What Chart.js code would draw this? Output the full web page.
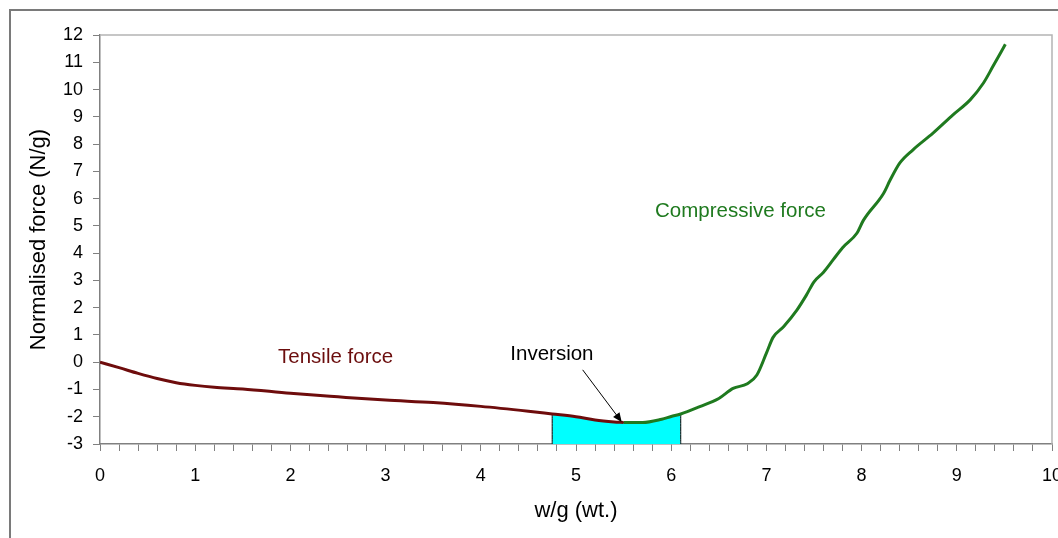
<!DOCTYPE html>
<html>
<head>
<meta charset="utf-8">
<script src="https://cdn.jsdelivr.net/npm/chart.js@4.4.0/dist/chart.umd.min.js"></script>
<style>
    html, body { margin: 0; padding: 0; background: #fff; overflow: hidden; }
    .wrap { position: relative; width: 1058px; height: 538px; }
</style>
</head>
<body>
<div class="wrap"><canvas id="forceChart"></canvas></div>
<script>
// Tensile branch (w/g, N/g)
const tensileX = [0, 0.2, 0.4, 0.6, 0.8, 1.0, 1.2, 1.5, 2.0, 2.5, 3.0, 3.5, 4.0, 4.5, 4.75, 5.0, 5.2, 5.4, 5.5];
const tensileY = [0, -0.2, -0.41, -0.6, -0.75, -0.85, -0.92, -0.98, -1.14, -1.27, -1.39, -1.48, -1.62, -1.8, -1.9, -2.0, -2.12, -2.19, -2.21];

// Compressive branch
const compressiveX = [5.5, 5.7, 5.9, 6.0, 6.1, 6.3, 6.5, 6.65, 6.8, 6.9, 7.0, 7.07, 7.18, 7.32, 7.42, 7.5, 7.6, 7.7, 7.8, 7.95, 8.02, 8.23, 8.3, 8.4, 8.54, 8.75, 8.96, 9.14, 9.28, 9.38, 9.51];
const compressiveY = [-2.21, -2.21, -2.09, -1.99, -1.9, -1.63, -1.33, -0.96, -0.79, -0.47, 0.33, 0.91, 1.3, 1.91, 2.46, 2.95, 3.3, 3.75, 4.2, 4.73, 5.21, 6.19, 6.68, 7.3, 7.79, 8.4, 9.07, 9.62, 10.24, 10.85, 11.66];

// Inversion zone (shaded)
const inversionRange = [4.75, 6.1];

const xTicks = [0, 1, 2, 3, 4, 5, 6, 7, 8, 9, 10];
const yTicks = [-3, -2, -1, 0, 1, 2, 3, 4, 5, 6, 7, 8, 9, 10, 11, 12];

const toPoints = (xs, ys) => xs.map((x, i) => ({ x: x, y: ys[i] }));

const tensilePts = toPoints(tensileX, tensileY);
const compressivePts = toPoints(compressiveX, compressiveY);

// build shaded polygon from the curve itself
const curvePts = tensilePts.concat(compressivePts.slice(1));
const inside = curvePts.filter(p => p.x >= inversionRange[0] && p.x <= inversionRange[1]);
const shadePts = [{ x: inversionRange[0], y: yTicks[0] }]
    .concat(inside)
    .concat([{ x: inversionRange[1], y: yTicks[0] }]);

const FONT = 'Arial, "Liberation Sans", sans-serif';
const AXIS_GREY = '#808080';

const decorPlugin = {
    id: 'decor',
    beforeDatasetsDraw(chart) {
        const { ctx, chartArea } = chart;
        ctx.save();
        // plot area border (top / right)
        ctx.strokeStyle = '#b4b4b4';
        ctx.lineWidth = 1.5;
        ctx.beginPath();
        ctx.moveTo(chartArea.left, chartArea.top);
        ctx.lineTo(chartArea.right, chartArea.top);
        ctx.lineTo(chartArea.right, chartArea.bottom);
        ctx.stroke();
        ctx.restore();
    },
    afterDraw(chart) {
        const { ctx } = chart;
        const xs = chart.scales.x, ys = chart.scales.y;
        ctx.save();

        // outer frame
        ctx.strokeStyle = '#7a7a7a';
        ctx.lineWidth = 2;
        ctx.beginPath();
        ctx.moveTo(10, chart.height + 5);
        ctx.lineTo(10, 10);
        ctx.lineTo(chart.width + 5, 10);
        ctx.stroke();

        // labels
        ctx.font = '20.5px ' + FONT;
        ctx.textBaseline = 'alphabetic';
        ctx.textAlign = 'left';
        ctx.fillStyle = '#6b0d0d';
        ctx.fillText('Tensile force', xs.getPixelForValue(1.87), ys.getPixelForValue(-0.03));
        ctx.fillStyle = '#1f7a1f';
        ctx.fillText('Compressive force', xs.getPixelForValue(5.83), ys.getPixelForValue(5.34));
        ctx.fillStyle = '#000';
        ctx.fillText('Inversion', xs.getPixelForValue(4.31), ys.getPixelForValue(0.08));

        // arrow
        const x0 = xs.getPixelForValue(5.07), y0 = ys.getPixelForValue(-0.28);
        const x1 = xs.getPixelForValue(5.48), y1 = ys.getPixelForValue(-2.19);
        const ang = Math.atan2(y1 - y0, x1 - x0);
        ctx.strokeStyle = '#000';
        ctx.lineWidth = 1;
        ctx.beginPath();
        ctx.moveTo(x0, y0);
        ctx.lineTo(x1 - 6 * Math.cos(ang), y1 - 6 * Math.sin(ang));
        ctx.stroke();
        ctx.beginPath();
        ctx.moveTo(x1, y1);
        ctx.lineTo(x1 - 9 * Math.cos(ang) + 4 * Math.sin(ang), y1 - 9 * Math.sin(ang) - 4 * Math.cos(ang));
        ctx.lineTo(x1 - 9 * Math.cos(ang) - 4 * Math.sin(ang), y1 - 9 * Math.sin(ang) + 4 * Math.cos(ang));
        ctx.closePath();
        ctx.fill();
        ctx.restore();
    }
};

new Chart(document.getElementById('forceChart'), {
    type: 'line',
    data: {
        datasets: [
            {
                label: 'Tensile force',
                data: tensilePts,
                borderColor: '#6e0c0c',
                borderWidth: 3,
                pointRadius: 0,
                cubicInterpolationMode: 'monotone',
                fill: false
            },
            {
                label: 'Compressive force',
                data: compressivePts,
                borderColor: '#1f7a1f',
                borderWidth: 3,
                pointRadius: 0,
                cubicInterpolationMode: 'monotone',
                fill: false
            },
            {
                label: 'Inversion',
                data: shadePts,
                borderColor: '#000',
                borderWidth: 1,
                backgroundColor: '#00ffff',
                pointRadius: 0,
                cubicInterpolationMode: 'monotone',
                fill: 'start'
            }
        ]
    },
    options: {
        responsive: true,
        maintainAspectRatio: false,
        animation: false,
        layout: { padding: { left: 0, top: 35, right: 6, bottom: 0 } },
        plugins: {
            legend: { display: false },
            tooltip: { enabled: false }
        },
        scales: {
            x: {
                type: 'linear',
                min: xTicks[0],
                max: xTicks[xTicks.length - 1],
                afterFit: s => { s.height = 94; s.paddingRight = 0; s.paddingLeft = 0; },
                ticks: {
                    stepSize: 0.2,
                    autoSkip: false,
                    maxTicksLimit: 100,
                    maxRotation: 0,
                    padding: 14,
                    color: '#000',
                    font: { family: FONT, size: 18 },
                    callback: v => xTicks.includes(Math.round(v * 1000) / 1000) ? String(Math.round(v)) : ''
                },
                grid: { drawOnChartArea: false, tickLength: 7, color: AXIS_GREY },
                border: { color: AXIS_GREY, width: 1.5 },
                title: {
                    display: true,
                    text: 'w/g (wt.)',
                    color: '#000',
                    font: { family: FONT, size: 22 },
                    padding: { top: 0, bottom: 14 }
                }
            },
            y: {
                min: yTicks[0],
                max: yTicks[yTicks.length - 1],
                afterFit: s => { s.width = 100; },
                ticks: {
                    stepSize: 1,
                    maxTicksLimit: 30,
                    padding: 10,
                    color: '#000',
                    font: { family: FONT, size: 18 }
                },
                grid: { drawOnChartArea: false, tickLength: 7, color: AXIS_GREY },
                border: { color: AXIS_GREY, width: 1.5 },
                title: {
                    display: true,
                    text: 'Normalised force (N/g)',
                    color: '#000',
                    font: { family: FONT, size: 22 },
                    padding: { top: 26, bottom: 0 }
                }
            }
        }
    },
    plugins: [decorPlugin]
});
</script>
</body>
</html>
